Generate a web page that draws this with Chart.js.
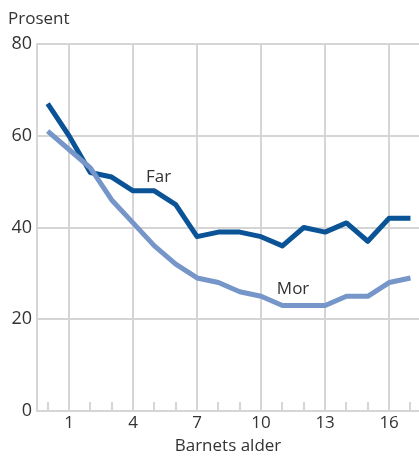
<!DOCTYPE html>
<html lang="no">
<head>
<meta charset="UTF-8">
<title>Prosent etter barnets alder</title>
<script src="https://cdn.jsdelivr.net/npm/chart.js"></script>
<style>
  html, body { margin: 0; padding: 0; background: #fff; }
  #wrap { width: 419px; height: 456px; position: relative; }
</style>
</head>
<body>
<div id="wrap"><canvas id="chart"></canvas></div>
<script>
// Data
const ages = [0, 1, 2, 3, 4, 5, 6, 7, 8, 9, 10, 11, 12, 13, 14, 15, 16, 17];
const far = [67, 60, 52, 51, 48, 48, 45, 38, 39, 39, 38, 36, 40, 39, 41, 37, 42, 42];
const mor = [61, 57, 53, 46, 41, 36, 32, 29, 28, 26, 25, 23, 23, 23, 25, 25, 28, 29];
const xTicks = [1, 4, 7, 10, 13, 16];
const yTicks = [0, 20, 40, 60, 80];

const gridColor = '#d5d5d5';
const textColor = '#333333';
const fontFamily = '"Open Sans", "Noto Sans", sans-serif';

// draws minor ticks on the x axis, the line labels and the "Prosent" title
const extras = {
  id: 'extras',
  afterDraw(chart) {
    const { ctx, scales: { x, y } } = chart;
    ctx.save();
    ctx.strokeStyle = gridColor;
    ctx.lineWidth = 2;
    const y0 = y.getPixelForValue(0);
    ages.forEach(a => {
      if (xTicks.includes(a)) return;
      const px = Math.round(x.getPixelForValue(a));
      ctx.beginPath();
      ctx.moveTo(px, y0);
      ctx.lineTo(px, y0 - 9);
      ctx.stroke();
    });
    ctx.fillStyle = textColor;
    ctx.font = '17px ' + fontFamily;
    ctx.textAlign = 'center';
    ctx.textBaseline = 'middle';
    ctx.fillText('Far', x.getPixelForValue(5.2), y.getPixelForValue(51));
    ctx.fillText('Mor', x.getPixelForValue(11.5), y.getPixelForValue(26.6));
    ctx.textAlign = 'left';
    ctx.textBaseline = 'alphabetic';
    ctx.fillText('Prosent', 8, 24);
    ctx.restore();
  }
};

new Chart(document.getElementById('chart'), {
  type: 'line',
  data: {
    datasets: [
      { label: 'Mor', data: ages.map((a, i) => ({ x: a, y: mor[i] })), borderColor: '#7696c9', borderWidth: 5, pointRadius: 0, borderJoinStyle: 'round', tension: 0 },
      { label: 'Far', data: ages.map((a, i) => ({ x: a, y: far[i] })), borderColor: '#0a5396', borderWidth: 5, pointRadius: 0, borderJoinStyle: 'round', tension: 0 }
    ]
  },
  options: {
    responsive: true,
    maintainAspectRatio: false,
    animation: false,
    layout: { padding: { top: 44, right: 0, left: 0, bottom: 0 } },
    plugins: { legend: { display: false }, tooltip: { enabled: false } },
    scales: {
      x: {
        type: 'linear',
        min: -0.5,
        max: 17.4,
        afterBuildTicks: s => { s.ticks = xTicks.map(v => ({ value: v })); },
        afterFit: s => { s.height = 45; },
        ticks: { color: textColor, font: { size: 17, family: fontFamily }, padding: 2, maxRotation: 0 },
        grid: { color: gridColor, lineWidth: 2, drawTicks: false },
        border: { color: gridColor, width: 2 },
        title: { display: true, text: 'Barnets alder', color: textColor, font: { size: 17, family: fontFamily }, padding: { top: 0, bottom: 0 } }
      },
      y: {
        min: 0,
        max: 80,
        afterBuildTicks: s => { s.ticks = yTicks.map(v => ({ value: v })); },
        afterFit: s => { s.width = 37; },
        ticks: { color: textColor, font: { size: 18, family: fontFamily }, padding: 5 },
        grid: { color: gridColor, lineWidth: 2, drawTicks: false },
        border: { color: gridColor, width: 2 }
      }
    }
  },
  plugins: [extras]
});
</script>
</body>
</html>
